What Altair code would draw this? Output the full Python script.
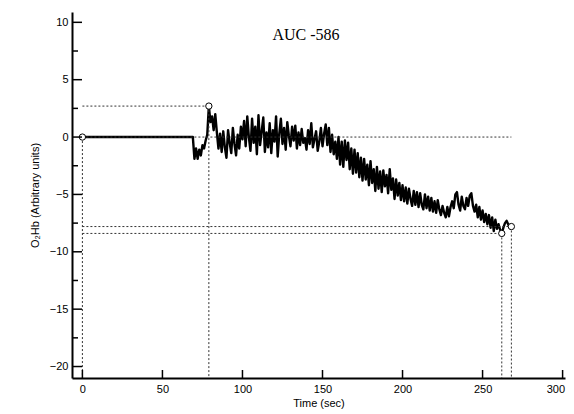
import altair as alt
import pandas as pd

# ---- data ----
flat_t = [0, 68]
flat_v = [0.0, 0.0]

values = [
    0.0, -1.9, -1.0, -1.9, -1.1, -1.6, -0.7, -1.0, -0.3, 0.2, 2.7,      # 69-79
    1.3, 1.8, 0.6, 2.0, 0.4, -1.0, 0.3, -1.3, 0.5, -0.9,               # 80-89
    -1.8, 0.6, -0.5, -1.4, 0.8, -0.6, -1.6, 0.2, -1.0, 0.9,            # 90-99
    -0.2, 1.4, -0.8, 1.8, 0.0, -1.2, 1.6, -0.5, 0.9, -1.5,             # 100-109
    1.9, -0.7, 0.5, 1.7, -1.3, 0.4, -0.9, 1.2, -1.4, 0.6,              # 110-119
    -0.4, 1.8, -1.7, 0.3, 1.6, -0.6, 0.8, -1.1, 1.3, 0.1,              # 120-129
    -0.8, 0.9, -0.3, 1.0, -1.0, 0.4, -0.7, 0.7, -0.5, -0.1,            # 130-139
    -1.1, 0.6, -0.6, 1.2, -0.9, -0.2, 0.5, -1.2, -0.4, 0.8,            # 140-149
    -0.8, 0.3, 1.1, -0.7, 0.8, -1.3, 0.2, -1.5, -0.4, -1.9,            # 150-159
    0.0, -2.4, -0.4, -2.6, -0.3, -2.0, -0.5, -2.8, -1.0, -3.2,         # 160-169
    -1.1, -3.1, -1.4, -3.5, -1.8, -3.8, -1.9, -3.7, -2.4, -4.2,        # 170-179
    -2.1, -4.0, -2.8, -4.7, -2.6, -4.5, -3.0, -4.8, -2.9, -4.3,        # 180-189
    -3.3, -4.9, -2.8, -4.6, -3.6, -5.4, -3.7, -5.1, -4.0, -5.5,        # 190-199
    -4.2, -5.6, -4.4, -5.8, -4.5, -5.4, -6.0, -4.7, -5.9, -4.8,        # 200-209
    -6.1, -4.9, -5.9, -6.3, -5.0, -6.2, -5.2, -6.4, -5.3, -6.5,        # 210-219
    -5.6, -6.6, -5.5, -6.3, -6.8, -6.0, -6.6, -7.0, -6.1, -6.9,        # 220-229
    -6.1, -5.6, -6.2, -5.0, -4.8, -5.9, -6.4, -5.2, -6.0, -6.3,        # 230-239
    -5.3, -6.0, -5.1, -4.9, -6.0, -6.5, -5.9, -7.0, -6.1, -7.2,        # 240-249
    -6.4, -7.4, -6.7, -7.6, -6.8, -7.9, -7.0, -8.2, -7.2, -8.0,        # 250-259
    -7.6, -8.1, -8.4, -7.9, -7.5, -7.3, -7.6, -7.9, -7.8,              # 260-268
]
times = list(range(69, 69 + len(values)))

marker_t = [0, 79, 262, 268]
marker_v = [0.0, 2.7, -8.4, -7.8]

hline_y = [2.7, 0.0, -7.8, -8.4]
hline_x0 = [0, 0, 0, 0]
hline_x1 = [79, 268, 268, 262]

x_ticks = [0, 50, 100, 150, 200, 250, 300]
y_ticks = [-20, -15, -10, -5, 0, 5, 10]
y_minor = [-17.5, -12.5, -7.5, -2.5, 2.5, 7.5]

title_text = ["AUC -586"]

# ---- chart ----
W, H = 493, 366
FONT = "Liberation Sans"

x_scale = alt.Scale(domain=[-6.5, 301.5], nice=False, zero=False)
y_scale = alt.Scale(domain=[-21, 10.9], nice=False, zero=False)

x_axis = alt.Axis(
    values=x_ticks, title="Time (sec)", tickSize=0, labelPadding=5,
    labelFlush=5, labelFlushOffset=2,
    domainWidth=2, domainColor="black", grid=False, titlePadding=3,
    labelFont=FONT, labelFontSize=11, labelColor="black",
    titleFont=FONT, titleFontSize=11, titleFontWeight="normal", titleColor="black")
y_axis = alt.Axis(
    values=y_ticks, title="O₂Hb (Arbitrary units)", tickSize=0, labelPadding=4,
    domainWidth=2, domainColor="black", grid=False, titlePadding=9,
    labelFont=FONT, labelFontSize=11, labelColor="black",
    titleFont=FONT, titleFontSize=11, titleFontWeight="normal", titleColor="black")


def X(field):
    return alt.X(field, scale=x_scale, axis=x_axis, title="Time (sec)")


def Y(field):
    return alt.Y(field, scale=y_scale, axis=y_axis, title="O₂Hb (Arbitrary units)")


line_df = pd.DataFrame({"t": flat_t + times, "v": flat_v + values})
line = alt.Chart(line_df).mark_line(color="black", strokeWidth=2.4, strokeJoin="round").encode(
    x=X("t:Q"), y=Y("v:Q"), order="t:Q",
)

hl_df = pd.DataFrame({"t": hline_x0, "t1": hline_x1, "v": hline_y})
hlines = alt.Chart(hl_df).mark_rule(color="#333333", strokeWidth=1, strokeDash=[2, 2]).encode(
    x=X("t:Q"), x2="t1:Q", y=Y("v:Q"),
)

mk_df = pd.DataFrame({"t": marker_t, "v": marker_v})
vlines = alt.Chart(mk_df).mark_rule(color="#333333", strokeWidth=1, strokeDash=[2, 2]).encode(
    x=X("t:Q"), y=Y("v:Q"), y2=alt.value(H),
)

markers = alt.Chart(mk_df).mark_point(
    shape="circle", filled=True, fill="white", stroke="black", strokeWidth=1, size=40, opacity=1
).encode(x=X("t:Q"), y=Y("v:Q"))

ytick_df = pd.DataFrame({"v": y_ticks})
yticks = alt.Chart(ytick_df).mark_rule(color="black", strokeWidth=1.5).encode(
    y=Y("v:Q"), x=alt.value(0), x2=alt.value(10))

yminor_df = pd.DataFrame({"v": y_minor})
yminors = alt.Chart(yminor_df).mark_rule(color="black", strokeWidth=1.5).encode(
    y=Y("v:Q"), x=alt.value(0), x2=alt.value(6))

xtick_df = pd.DataFrame({"t": x_ticks})
xticks = alt.Chart(xtick_df).mark_rule(color="black", strokeWidth=1.5).encode(
    x=X("t:Q"), y=alt.value(H), y2=alt.value(H - 8))

title_df = pd.DataFrame({"label": title_text})
title = alt.Chart(title_df).mark_text(
    font="Liberation Serif", fontSize=16, align="center", baseline="middle", color="black"
).encode(text="label:N", x=alt.value(234), y=alt.value(23))

chart = alt.layer(line, hlines, vlines, markers, yticks, yminors, xticks, title).properties(
    width=W, height=H,
    autosize=alt.AutoSizeParams(type="none"),
    padding={"left": 64, "top": 4, "right": 1, "bottom": 36},
).configure_view(stroke=None)

chart.save("out.html", embed_options={"renderer": "svg", "actions": False})
